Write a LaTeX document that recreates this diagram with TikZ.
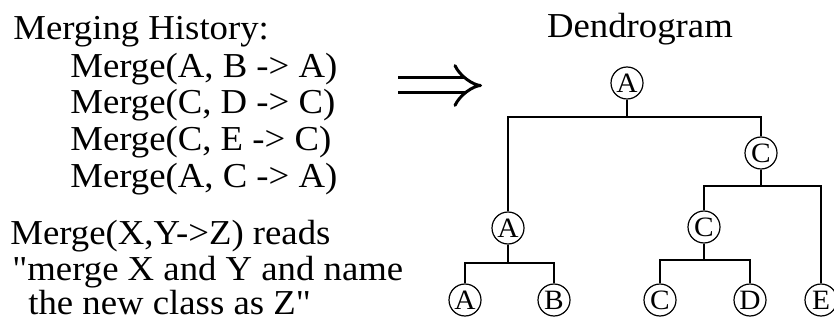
\documentclass[tikz,border=0pt]{standalone}
\usepackage{fontspec}
\newfontfamily\histfont{Liberation Serif}[FakeStretch=1.05]
\usetikzlibrary{arrows.meta}

\begin{document}
\begin{tikzpicture}[
        x=0.5pt, y=-0.5pt,
        txt/.style={anchor=base west, inner sep=0pt,
            font=\histfont\fontsize{17.5}{21}\selectfont},
        cls/.style={circle, draw, line width=0.6pt, minimum size=16pt,
            inner sep=0pt, font=\histfont\fontsize{14}{16}\selectfont},
        link/.style={line width=0.6pt},
        implies/.style={line width=1.5pt, double distance=6pt, -{Implies}}
        ]
        \useasboundingbox (0,0) rectangle (834,320);

        % merging history
        \node[txt] (hist) at (13,40) {Merging History:};
        \node[txt] (m1) at (70,78) {Merge(A, B -> A)};
        \node[txt] (m2) at (70,114) {Merge(C, D -> C)};
        \node[txt] (m3) at (70,151) {Merge(C, E -> C)};
        \node[txt] (m4) at (70,188) {Merge(A, C -> A)};

        % reading note
        \node[txt] (note1) at (10,244) {Merge(X,Y->Z) reads};
        \node[txt] (note2) at (12,280) {"merge X and Y and name};
        \node[txt] (note3) at (28,314) {the new class as Z"};

        \coordinate (arrS) at (398,85.5);
        \coordinate (arrE) at (482,85.5);
        \draw[implies] (arrS) -- (arrE);

        % dendrogram
        \node[txt, anchor=base] (title) at (640,38) {Dendrogram};
        \node[cls] (rA) at (627,83) {A};
        \node[cls] (rC) at (761,153) {C};
        \node[cls] (iA) at (508,228) {A};
        \node[cls] (iC) at (704,227) {C};
        \node[cls] (lA) at (465,300) {A};
        \node[cls] (lB) at (554,300) {B};
        \node[cls] (lC) at (660,300) {C};
        \node[cls] (lD) at (750,300) {D};
        \node[cls] (lE) at (821,300) {E};

        \coordinate (barA) at (0,117);
        \coordinate (barC) at (0,186);
        \coordinate (barAB) at (0,263);
        \coordinate (barCD) at (0,260);

        \draw[link] (rA.south) -- (rA.south |- barA) -| (iA.north);
        \draw[link] (rA.south) -- (rA.south |- barA) -| (rC.north);
        \draw[link] (rC.south) -- (rC.south |- barC) -| (iC.north);
        \draw[link] (rC.south) -- (rC.south |- barC) -| (lE.north);
        \draw[link] (iA.south) -- (iA.south |- barAB) -| (lA.north);
        \draw[link] (iA.south) -- (iA.south |- barAB) -| (lB.north);
        \draw[link] (iC.south) -- (iC.south |- barCD) -| (lC.north);
        \draw[link] (iC.south) -- (iC.south |- barCD) -| (lD.north);
    \end{tikzpicture}
\end{document}
